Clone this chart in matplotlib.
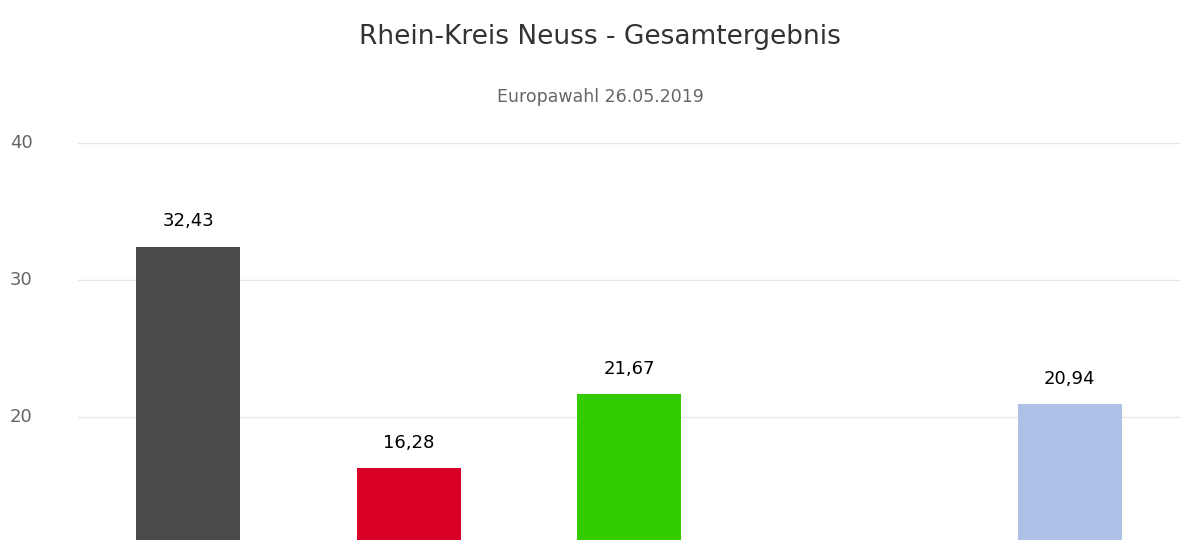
import matplotlib
matplotlib.use("Agg")
import matplotlib.pyplot as plt
import numpy as np

categories = ["CDU", "SPD", "GRÜNE", "", "Sonstige"]
values = [32.43, 16.28, 21.67, np.nan, 20.94]
colors = ["#4a4a4a", "#d80027", "#33cc00", "#ffffff", "#adc0e6"]
yticks = [20, 30, 40]

fig = plt.figure(figsize=(12, 5.4), dpi=100)
ax = fig.add_axes([78/1200, 0, 1102/1200, 1])
x = np.arange(len(categories))
ax.set_xlim(-0.5, len(categories) - 0.5)
ax.set_ylim(11.02, 50.44)
for i, (v, c) in enumerate(zip(values, colors)):
    if np.isnan(v):
        continue
    ax.bar(i, v, width=0.472, color=c, zorder=3)
    ax.text(i, v + 1.2, f"{v:.2f}".replace(".", ","), ha="center", va="bottom",
            fontsize=13, color="black", zorder=4)
for t in yticks:
    ax.axhline(t, color="#e6e6e6", lw=1, zorder=1)
    ax.text(-0.705, t, str(t), ha="right", va="center", fontsize=13, color="#666666")
ax.set_xticks([]); ax.set_yticks([])
for s in ax.spines.values():
    s.set_visible(False)
fig.text(0.5, 1 - 37/540, "Rhein-Kreis Neuss - Gesamtergebnis", ha="center", va="center",
         fontsize=19, color="#333333")
fig.text(0.5, 1 - 97/540, "Europawahl 26.05.2019", ha="center", va="center",
         fontsize=12.5, color="#666666")
fig.savefig("out.png", dpi=100)
